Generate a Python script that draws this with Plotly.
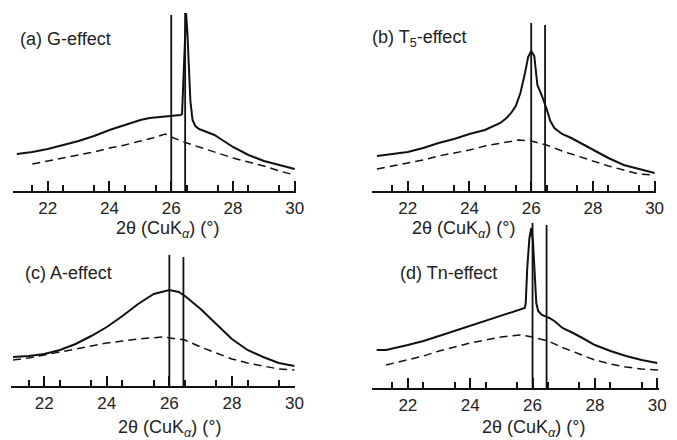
import plotly.graph_objects as go

W, H = 677, 440

# 2-theta axis ticks: labelled even degrees, unlabelled odd degrees, half-degree minors
label_vals = [22, 24, 26, 28, 30]
odd_vals = [21, 23, 25, 27, 29]
minor_vals = [v + 0.5 for v in range(21, 30)]

# positions of the two reference reflections (degrees 2-theta)
ref_pos = [26.0, 26.45]

# (a) G-effect
a_x = [21, 21.5, 22, 22.5, 23, 23.5, 24, 24.5, 25, 25.3, 25.6, 26, 26.3, 26.35, 26.38,
       26.44, 26.48, 26.52, 26.57, 26.62, 26.69, 26.78, 26.9, 27.05, 27.22, 27.4, 27.6,
       28, 28.5, 29, 29.5, 30]
a_solid = [37, 39, 42, 46, 50, 55, 61, 66, 71, 73, 74, 75, 76, 77, 100,
           160, 178, 160, 118, 90, 71, 65, 62, 60, 58, 56, 52,
           44, 36, 30, 26, 22]
a_dx = [21.5, 22, 22.5, 23, 23.5, 24, 24.5, 25, 25.4, 25.8, 26, 26.5, 27, 27.5, 28, 28.5, 29, 29.5, 30]
a_dash = [27, 30, 33, 36, 39, 43, 46, 50, 53, 57, 54, 48, 43, 38, 33, 29, 25, 20, 16]
a_ref_top = [176, 178]

# (b) T5-effect
b_x = [21, 21.5, 22, 22.5, 23, 23.5, 24, 24.5, 25, 25.2, 25.35, 25.5, 25.65, 25.8, 25.9,
       26.0, 26.1, 26.2, 26.35, 26.5, 26.62, 26.75, 27.0, 27.3, 27.6, 28, 28.5, 29, 29.5, 30]
b_solid = [35, 37, 39, 43, 48, 52, 57, 61, 68, 73, 78, 85, 98, 118, 134,
           140, 135, 106, 95, 82, 70, 63, 57, 53, 48, 41, 33, 26, 22, 18]
b_dx = [21, 21.5, 22, 22.5, 23, 23.5, 24, 24.5, 25, 25.6, 26, 26.5, 27, 27.5, 28, 28.5, 29, 29.5, 30]
b_dash = [22, 25, 28, 31, 35, 38, 41, 45, 48, 51, 50, 46, 40, 35, 30, 25, 21, 17, 16]
b_ref_top = [168, 166]

# (c) A-effect
c_x = [21, 21.5, 22, 22.5, 23, 23.5, 24, 24.5, 25, 25.5, 26, 26.3, 26.5, 26.8, 27,
       27.5, 28, 28.5, 29, 29.5, 30]
c_solid = [29, 30, 32, 36, 42, 50, 59, 70, 82, 92, 96, 94, 90, 82, 77,
           62, 47, 36, 29, 23, 20]
c_dx = [21, 21.5, 22, 22.5, 23, 23.5, 24, 24.5, 25, 25.8, 26, 26.5, 27, 27.5, 28, 28.5, 29, 29.5, 30]
c_dash = [26, 28, 31, 34, 37, 40, 43, 45, 47, 49, 48, 46, 39, 33, 27, 23, 20, 17, 16]
c_ref_top = [131, 129]

# (d) Tn-effect
d_x = [21, 21.3, 22, 22.5, 23, 23.5, 24, 24.5, 25, 25.5, 25.75, 25.78, 25.83, 25.9, 25.96,
       26.01, 26.06, 26.12, 26.18, 26.3, 26.54, 26.7, 26.96, 27.1, 27.3, 27.6, 28, 28.5,
       29, 29.5, 30]
d_solid = [38, 38, 43, 47, 52, 57, 62, 67, 72, 77, 80, 84, 120, 150, 160,
           148, 115, 85, 77, 73, 70, 67, 60, 58, 55, 50, 43, 37,
           32, 28, 25]
d_dx = [21.3, 22, 22.5, 23, 23.5, 24, 24.5, 25, 25.6, 26, 26.5, 27, 27.5, 28, 28.5, 29, 29.5, 30, 30.06]
d_dash = [23, 28, 32, 37, 41, 45, 48, 51, 53, 51, 47, 40, 34, 28, 24, 21, 19, 18, 18]
d_ref_top = [165, 163]

panels = [
    # label, solid, dashed, ref heights, px box (left, right, bottom, top), x range,
    # label anchor (left, middle), axis-title centre
    ("(a) G-effect", (a_x, a_solid), (a_dx, a_dash), a_ref_top,
     (13, 300, 191, 10), (20.87, 30.04), (18, 39), (170, 229)),
    ("(b) T<sub>5</sub>-effect", (b_x, b_solid), (b_dx, b_dash), b_ref_top,
     (377, 665, 191, 10), (20.84, 30.05), (375, 39), (470, 229)),
    ("(c) A-effect", (c_x, c_solid), (c_dx, c_dash), c_ref_top,
     (11, 299, 386, 215), (20.93, 30.02), (23, 273), (172, 428)),
    ("(d) Tn-effect", (d_x, d_solid), (d_dx, d_dash), d_ref_top,
     (377, 668, 388, 215), (20.85, 30.06), (403, 273), (541, 428)),
]

FONT = "Liberation Sans, Arial, sans-serif"
INK = "#111111"
TXT = "#222222"

fig = go.Figure()
layout = dict(
    width=W, height=H, margin=dict(l=0, r=0, t=0, b=0),
    paper_bgcolor="white", plot_bgcolor="white", showlegend=False,
    annotations=[],
)

n = len(panels)
for i, (label, solid, dashed, ref_top, box, xr, lab_xy, title_xy) in enumerate(panels, start=1):
    left, right, bottom, top = box
    xa = "x" if i == 1 else f"x{i}"
    ya = "y" if i == 1 else f"y{i}"
    xkey = "xaxis" if i == 1 else f"xaxis{i}"
    ykey = "yaxis" if i == 1 else f"yaxis{i}"
    # companion axis carrying the unlabelled odd-degree ticks
    xo = f"x{i + n}"
    xokey = f"xaxis{i + n}"

    fig.add_trace(go.Scatter(x=solid[0], y=solid[1], mode="lines", xaxis=xa, yaxis=ya,
                             line=dict(color=INK, width=2), hoverinfo="skip"))
    fig.add_trace(go.Scatter(x=dashed[0], y=dashed[1], mode="lines", xaxis=xa, yaxis=ya,
                             line=dict(color=INK, width=1.5, dash="8px,5px"), hoverinfo="skip"))
    for pos, h in zip(ref_pos, ref_top):
        fig.add_trace(go.Scatter(x=[pos, pos], y=[0, h], mode="lines", xaxis=xa, yaxis=ya,
                                 line=dict(color=INK, width=1.8), hoverinfo="skip"))

    layout[xkey] = dict(
        domain=[left / W, right / W], anchor=ya, range=list(xr),
        showgrid=False, zeroline=False, showline=True, linecolor=INK, linewidth=1.5,
        ticks="inside", ticklen=10, tickwidth=1.5, tickcolor=INK,
        tickmode="array", tickvals=label_vals,
        tickfont=dict(family=FONT, size=17, color=TXT), ticklabelstandoff=1,
        minor=dict(tickmode="array", tickvals=minor_vals, ticks="inside",
                   ticklen=6, tickwidth=1.5, tickcolor=INK),
    )
    layout[xokey] = dict(
        overlaying=xa, anchor=ya, side="bottom", range=list(xr), matches=xa,
        showgrid=False, zeroline=False, showline=False, showticklabels=False,
        ticks="inside", ticklen=10, tickwidth=1.5, tickcolor=INK,
        tickmode="array", tickvals=odd_vals,
    )
    layout[ykey] = dict(
        domain=[1 - bottom / H, 1 - top / H], anchor=xa, range=[0, bottom - top],
        visible=False, showgrid=False, zeroline=False,
    )

    layout["annotations"].append(dict(
        text=label, x=lab_xy[0] / W, y=1 - lab_xy[1] / H, xref="paper", yref="paper",
        xanchor="left", yanchor="middle", showarrow=False,
        font=dict(family=FONT, size=18, color=TXT)))
    layout["annotations"].append(dict(
        text="2θ (CuK<sub><i>α</i></sub>) (°)", x=title_xy[0] / W, y=1 - title_xy[1] / H,
        xref="paper", yref="paper", xanchor="center", yanchor="middle", showarrow=False,
        font=dict(family=FONT, size=18, color=TXT)))

fig.update_layout(**layout)
fig.write_html("out.html")
